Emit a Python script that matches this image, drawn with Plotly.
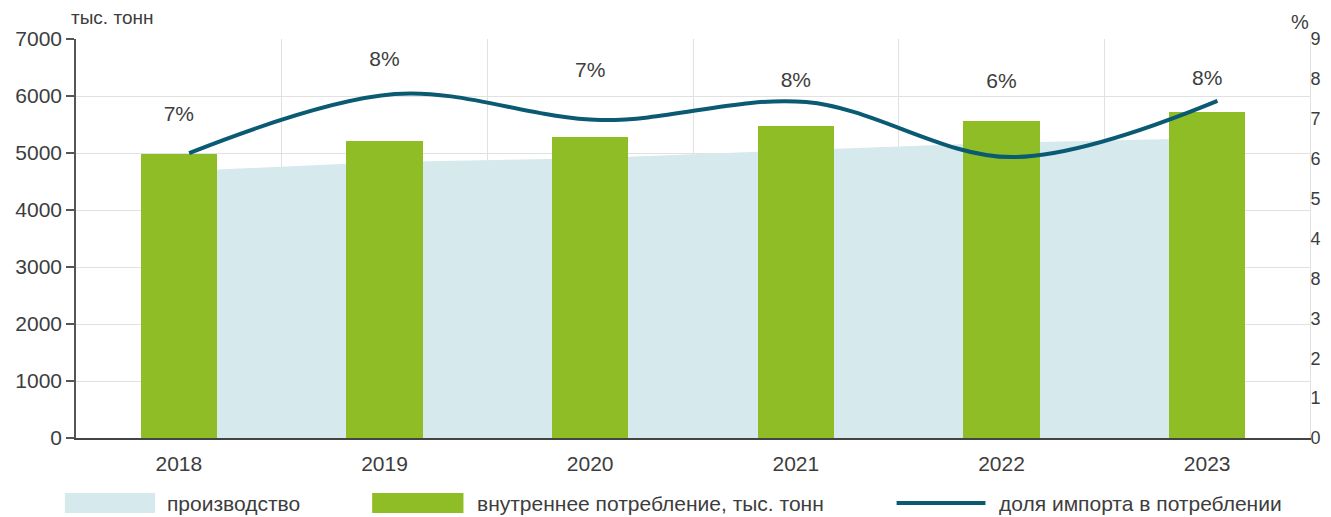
import plotly.graph_objects as go

years = ["2018", "2019", "2020", "2021", "2022", "2023"]
production = [4680, 4840, 4910, 5050, 5180, 5260]
consumption = [4980, 5210, 5280, 5470, 5560, 5720]
import_share_line = [7.14, 8.62, 7.97, 8.42, 7.04, 8.45]
import_share_text = ["7%", "8%", "7%", "8%", "6%", "8%"]
import_share_text_y = [8.07, 9.45, 9.17, 8.92, 8.9, 8.97]
right_tick_text = ["0", "1", "2", "3", "8", "4", "5", "6", "7", "8", "9"]

FONT = "Liberation Sans, Arial, sans-serif"
TEXT = "#3d3d3d"
BLUE = "#d6e9ec"
GREEN = "#8fbd25"
LINE = "#0b5a73"
GRID = "#e1e1e1"

x = list(range(len(years)))
line_x = [i + 0.05 for i in x]

fig = go.Figure()

# production area (base subplot, drawn first so it stays behind the bars)
fig.add_trace(go.Scatter(
    x=x, y=production, mode="none", fill="tozeroy", fillcolor=BLUE,
    name="производство", hoverinfo="skip",
))

# consumption bars on a hidden overlay axis with the same scale
fig.add_trace(go.Bar(
    x=x, y=consumption, yaxis="y2", width=0.37,
    marker=dict(color=GREEN, line=dict(width=0)),
    name="внутреннее потребление, тыс. тонн",
))

# import share line on the right axis
fig.add_trace(go.Scatter(
    x=line_x, y=import_share_line, yaxis="y3", mode="lines",
    line=dict(color=LINE, width=4, shape="spline", smoothing=1.0),
    name="доля импорта в потреблении",
))

# percent labels
fig.add_trace(go.Scatter(
    x=x, y=import_share_text_y, yaxis="y3", mode="text",
    text=import_share_text, textfont=dict(family=FONT, size=21, color=TEXT),
    hoverinfo="skip", showlegend=False,
))

# page body has an 8px margin and the plot div is clipped to the body width
fig.update_layout(
    width=1315, height=509,
    margin=dict(l=68, r=13, t=31, b=79, autoexpand=False),
    paper_bgcolor="white", plot_bgcolor="white",
    showlegend=False,
    font=dict(family=FONT, size=21, color=TEXT),
    xaxis=dict(
        range=[-0.5, len(years) - 0.5], automargin=False,
        tickmode="array", tickvals=x, ticktext=years,
        showgrid=False, zeroline=False,
        showline=True, linecolor="#444", linewidth=1.5,
        ticks="", ticklabelstandoff=6,
        minor=dict(tickvals=[i + 0.5 for i in x[:-1]], showgrid=True,
                   gridcolor=GRID, gridwidth=1, ticks=""),
    ),
    yaxis=dict(
        range=[0, 7000], dtick=1000, automargin=False,
        showgrid=True, gridcolor=GRID, gridwidth=1,
        zeroline=False,
        showline=True, linecolor="#555", linewidth=1.5,
        ticks="outside", ticklen=8, tickcolor="#555", tickwidth=1.5,
    ),
    yaxis2=dict(
        overlaying="y", range=[0, 7000], visible=False, automargin=False,
    ),
    yaxis3=dict(
        overlaying="y", side="right", automargin=False,
        range=[0, 10], tickmode="array",
        tickvals=list(range(len(right_tick_text))), ticktext=right_tick_text,
        tickfont=dict(size=18),
        showgrid=False, zeroline=False,
        showline=True, linecolor=GRID, linewidth=1,
        ticks="", ticklabelstandoff=-4,
    ),
    bargap=0,
)

# axis captions
fig.add_annotation(x=-0.006, y=1.053, xref="paper", yref="paper", text="тыс. тонн",
                   showarrow=False, xanchor="left", yanchor="middle",
                   font=dict(size=19, color=TEXT))
fig.add_annotation(x=0.992, y=1.043, xref="paper", yref="paper", text="%",
                   showarrow=False, xanchor="center", yanchor="middle",
                   font=dict(size=20, color=TEXT))

# hand-drawn legend below the axis
legend_y0, legend_y1, legend_ym = -0.138, -0.188, -0.163
fig.add_shape(type="rect", xref="paper", yref="paper", x0=-0.009, x1=0.064,
              y0=legend_y1, y1=legend_y0, fillcolor=BLUE, line=dict(width=0))
fig.add_shape(type="rect", xref="paper", yref="paper", x0=0.240, x1=0.314,
              y0=legend_y1, y1=legend_y0, fillcolor=GREEN, line=dict(width=0))
fig.add_shape(type="line", xref="paper", yref="paper", x0=0.665, x1=0.737,
              y0=legend_ym, y1=legend_ym, line=dict(color=LINE, width=4))
for lx, label in [(0.072, "производство"),
                  (0.323, "внутреннее потребление, тыс. тонн"),
                  (0.746, "доля импорта в потреблении")]:
    fig.add_annotation(x=lx, y=legend_ym, xref="paper", yref="paper", text=label,
                       showarrow=False, xanchor="left", yanchor="middle",
                       font=dict(size=21, color=TEXT))

fig.write_html("out.html")
